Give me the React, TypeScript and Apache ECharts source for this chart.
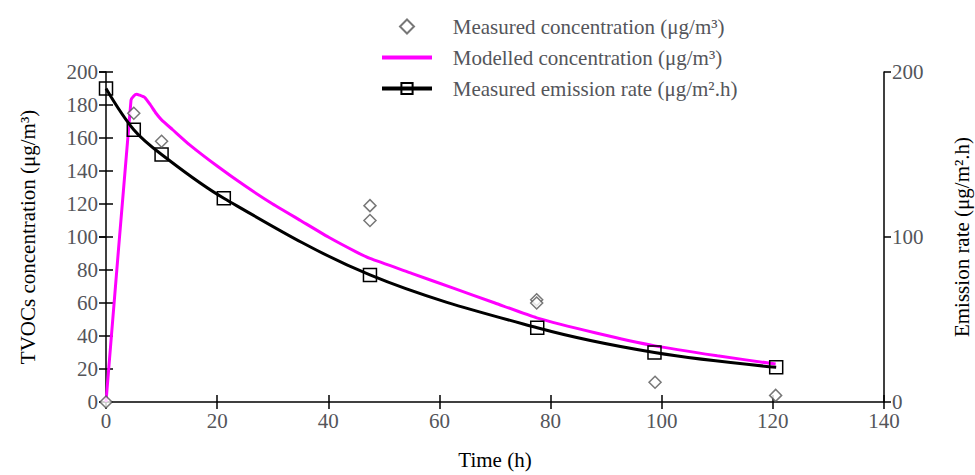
import React, { useEffect, useRef } from "react";
import * as echarts from "echarts";

const xTicks = { min: 0, max: 140, interval: 20 };
const yLeftTicks = { min: 0, max: 200, interval: 20 };
const yRightTicks = { min: 0, max: 200, interval: 100 };

const measuredConcentration: [number, number][] = [
  [0, 0], [5, 175], [10, 158], [47.5, 119], [47.5, 110],
  [77.5, 62], [77.5, 60], [98.8, 12], [120.5, 4],
];

const modelledConcentration: [number, number][] = [
  [0, 0], [4.5, 183], [5, 185.5], [5.5, 186.5], [6, 186], [7, 184.5],
  [8, 180], [9, 175], [10, 171], [12, 165], [15, 156], [20, 143],
  [25, 131], [30, 120], [35, 110], [40, 100], [45, 91], [47.5, 87],
  [55, 78], [62.5, 69], [70, 60], [77.5, 51], [88, 42], [98.8, 34],
  [110, 28], [120.5, 23],
];

const emissionRate: [number, number][] = [
  [0, 190], [5, 165], [10, 150], [21.2, 123.5], [47.5, 77],
  [77.6, 45], [98.7, 30], [120.6, 21],
];

const names = {
  conc: "Measured concentration (μg/m³)",
  model: "Modelled concentration (μg/m³)",
  emis: "Measured emission rate (μg/m².h)",
};

const FONT = "Liberation Serif";

const lbl = () => ({ fontFamily: FONT, fontSize: 21 });
const blk = () => ({ color: "#000", width: 1.5 });

export default function App() {
  const ref = useRef<HTMLDivElement>(null);
  useEffect(() => {
    if (!ref.current) return;
    const chart = echarts.init(ref.current, null, { renderer: "svg" });
    chart.setOption({
      animation: false,
      grid: { left: 106, right: 91, top: 72, bottom: 73, outerBoundsMode: "none" },
      legend: {
        orient: "vertical",
        left: 375,
        top: 11,
        itemWidth: 50,
        itemHeight: 14,
        itemGap: 10,
        selectedMode: false,
        formatter: (n: string) => "\u00A0\u00A0\u00A0" + n,
        textStyle: { fontFamily: FONT, fontSize: 21 },
        data: [
          { name: names.conc, icon: "path://M5,0L10,5L5,10L0,5Z" },
          { name: names.model, icon: "path://M0,0H50V4H0Z" },
          { name: names.emis, lineStyle: { width: 4, color: "#000" } },
        ],
      },
      xAxis: [
        {
          type: "value",
          ...xTicks,
          position: "bottom",
          name: "Time (h)",
          nameLocation: "middle",
          nameGap: 47,
          nameTextStyle: lbl(),
          axisLine: { onZero: false, lineStyle: blk() },
          axisTick: { show: true, length: 7, lineStyle: blk() },
          axisLabel: lbl(),
          splitLine: { show: false },
        },
        {
          type: "value",
          ...xTicks,
          position: "bottom",
          axisLine: { show: false },
          axisTick: { show: true, inside: true, length: 7, lineStyle: blk() },
          axisLabel: { show: false },
          splitLine: { show: false },
        },
      ],
      yAxis: [
        {
          type: "value",
          ...yLeftTicks,
          position: "left",
          name: "TVOCs concentration (μg/m³)",
          nameLocation: "middle",
          nameRotate: 90,
          nameGap: 68,
          nameTextStyle: lbl(),
          axisLine: { show: true, onZero: false, lineStyle: blk() },
          axisTick: { show: true, length: 7, lineStyle: blk() },
          axisLabel: lbl(),
          splitLine: { show: false },
        },
        {
          type: "value",
          ...yRightTicks,
          position: "right",
          name: "Emission rate (μg/m².h)",
          nameLocation: "middle",
          nameRotate: 90,
          nameGap: 67,
          nameTextStyle: lbl(),
          axisLine: { show: true, onZero: false, lineStyle: blk() },
          axisTick: { show: true, length: 7, lineStyle: blk() },
          axisLabel: lbl(),
          splitLine: { show: false },
        },
        {
          type: "value",
          ...yLeftTicks,
          position: "left",
          axisLine: { show: false },
          axisTick: { show: true, inside: true, length: 7, lineStyle: blk() },
          axisLabel: { show: false },
          splitLine: { show: false },
        },
        {
          type: "value",
          ...yRightTicks,
          position: "right",
          axisLine: { show: false },
          axisTick: { show: true, inside: true, length: 7, lineStyle: blk() },
          axisLabel: { show: false },
          splitLine: { show: false },
        },
      ],
      series: [
        {
          name: names.model,
          type: "line",
          xAxisIndex: 0,
          yAxisIndex: 0,
          data: modelledConcentration,
          symbol: "none",
          smooth: 0.15,
          lineStyle: { color: "#ff00ff", width: 3 },
          itemStyle: { color: "#ff00ff" },
          z: 2,
        },
        {
          name: names.emis,
          type: "line",
          xAxisIndex: 0,
          yAxisIndex: 1,
          data: emissionRate,
          smooth: 0.35,
          symbol: "rect",
          symbolSize: 13,
          showAllSymbol: true,
          lineStyle: { color: "#000", width: 3 },
          itemStyle: { color: "rgba(255,255,255,0)", borderColor: "#000", borderWidth: 1.5 },
          z: 3,
        },
        {
          name: names.conc,
          type: "scatter",
          xAxisIndex: 0,
          yAxisIndex: 0,
          data: measuredConcentration,
          symbol: "diamond",
          symbolSize: 12,
          clip: false,
          itemStyle: { color: "#fff", borderColor: "#555", borderWidth: 1.5 },
          z: 4,
        },
      ],
    });
    return () => chart.dispose();
  }, []);
  return <div ref={ref} style={{ width: 975, height: 475, position: "absolute", left: 0, top: 0 }} />;
}
